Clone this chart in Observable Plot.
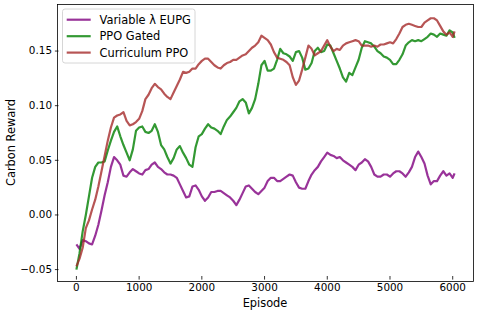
<!DOCTYPE html>
<html>
<head>
<meta charset="utf-8">
<script src="https://cdn.jsdelivr.net/npm/d3@7"></script>
<script src="https://cdn.jsdelivr.net/npm/@observablehq/plot@0.6"></script>
<style>
  html, body { margin: 0; padding: 0; background: #fff; }
  #chart { width: 479px; height: 314px; }
  svg { font-family: "DejaVu Sans", sans-serif; }
</style>
</head>
<body>
<div id="chart"></div>
<script>
const episodes = [
  0,50,100,150,200,250,300,350,400,450,
  500,550,600,650,700,750,800,850,900,950,
  1000,1050,1100,1150,1200,1250,1300,1350,1400,1450,
  1500,1550,1600,1650,1700,1750,1800,1850,1900,1950,
  2000,2050,2100,2150,2200,2250,2300,2350,2400,2450,
  2500,2550,2600,2650,2700,2750,2800,2850,2900,2950,
  3000,3050,3100,3150,3200,3250,3300,3350,3400,3450,
  3500,3550,3600,3650,3700,3750,3800,3850,3900,3950,
  4000,4050,4100,4150,4200,4250,4300,4350,4400,4450,
  4500,4550,4600,4650,4700,4750,4800,4850,4900,4950,
  5000,5050,5100,5150,5200,5250,5300,5350,5400,5450,
  5500,5550,5600,5650,5700,5750,5800,5850,5900,5950,
  6000,6030
];

const variableEUPG = [
  -0.027,-0.031,-0.023,-0.024,-0.026,-0.027,-0.019,-0.009,0.004,0.018,
  0.030,0.044,0.053,0.050,0.046,0.036,0.035,0.039,0.042,0.040,
  0.038,0.037,0.041,0.042,0.046,0.048,0.044,0.042,0.039,0.037,
  0.037,0.036,0.034,0.028,0.022,0.016,0.017,0.026,0.027,0.023,
  0.017,0.013,0.016,0.021,0.021,0.022,0.022,0.020,0.018,0.016,
  0.013,0.009,0.014,0.020,0.026,0.027,0.024,0.021,0.019,0.022,
  0.025,0.031,0.034,0.034,0.031,0.031,0.033,0.035,0.037,0.036,
  0.030,0.025,0.024,0.024,0.031,0.037,0.041,0.044,0.049,0.053,
  0.057,0.055,0.054,0.052,0.053,0.050,0.048,0.046,0.044,0.041,
  0.046,0.048,0.051,0.049,0.044,0.037,0.035,0.035,0.037,0.037,
  0.035,0.038,0.040,0.040,0.038,0.035,0.039,0.044,0.053,0.058,
  0.053,0.047,0.036,0.028,0.031,0.031,0.036,0.040,0.036,0.038,
  0.034,0.038
];

const ppoGated = [
  -0.050,-0.035,-0.015,0.000,0.017,0.034,0.044,0.048,0.048,0.049,
  0.059,0.068,0.076,0.081,0.072,0.064,0.057,0.050,0.060,0.077,
  0.080,0.081,0.076,0.075,0.077,0.083,0.076,0.064,0.060,0.053,
  0.047,0.052,0.060,0.063,0.057,0.052,0.046,0.044,0.062,0.072,
  0.074,0.079,0.083,0.080,0.079,0.077,0.074,0.081,0.087,0.090,
  0.094,0.098,0.104,0.106,0.103,0.093,0.098,0.106,0.120,0.137,
  0.141,0.132,0.132,0.134,0.142,0.152,0.148,0.147,0.145,0.141,
  0.149,0.150,0.144,0.133,0.134,0.139,0.150,0.153,0.149,0.150,
  0.156,0.155,0.148,0.141,0.134,0.126,0.122,0.130,0.128,0.135,
  0.142,0.153,0.159,0.158,0.157,0.154,0.150,0.148,0.145,0.144,
  0.142,0.138,0.138,0.142,0.147,0.155,0.158,0.160,0.159,0.160,
  0.159,0.161,0.163,0.166,0.165,0.163,0.166,0.165,0.164,0.169,
  0.167,0.162
];

const curriculumPPO = [
  -0.047,-0.040,-0.030,-0.012,-0.005,0.005,0.014,0.026,0.040,0.054,
  0.068,0.080,0.089,0.091,0.092,0.094,0.086,0.082,0.083,0.085,
  0.088,0.095,0.106,0.110,0.116,0.120,0.117,0.115,0.111,0.108,
  0.106,0.112,0.118,0.124,0.131,0.130,0.131,0.134,0.134,0.138,
  0.141,0.143,0.143,0.140,0.137,0.135,0.134,0.137,0.139,0.140,
  0.142,0.142,0.144,0.146,0.147,0.150,0.153,0.155,0.158,0.164,
  0.162,0.160,0.156,0.149,0.144,0.143,0.142,0.140,0.137,0.126,
  0.119,0.123,0.133,0.144,0.155,0.152,0.146,0.148,0.150,0.155,
  0.160,0.154,0.150,0.152,0.151,0.155,0.157,0.158,0.159,0.160,
  0.159,0.155,0.155,0.155,0.154,0.155,0.154,0.156,0.156,0.157,
  0.158,0.157,0.161,0.166,0.172,0.174,0.175,0.174,0.173,0.172,
  0.172,0.176,0.178,0.180,0.180,0.178,0.173,0.168,0.165,0.167,
  0.163,0.168
];

const seriesNames = ["Variable \u03bb EUPG", "PPO Gated", "Curriculum PPO"];
const seriesColors = ["purple", "green", "brown"];
const xTicks = [0, 1000, 2000, 3000, 4000, 5000, 6000];
const yTicks = [-0.05, 0.00, 0.05, 0.10, 0.15];

const allSeries = [variableEUPG, ppoGated, curriculumPPO];
const rows = (vals) => episodes.map((e, i) => ({episode: e, value: vals[i]}));

const W = 479, H = 314;
const mL = 57, mR = 6, mT = 4, mB = 33;

const plot = Plot.plot({
  width: W,
  height: H,
  marginLeft: mL,
  marginRight: mR,
  marginTop: mT,
  marginBottom: mB,
  style: {fontFamily: "DejaVu Sans, sans-serif", fontSize: "10.4px", color: "black", background: "white"},
  x: {domain: [-301.5, 6331.5]},
  y: {domain: [-0.0609, 0.1926]},
  marks: [
    ...allSeries.map((vals, k) => Plot.line(rows(vals), {
      x: "episode", y: "value",
      stroke: seriesColors[k], strokeOpacity: 0.8, strokeWidth: 2.2,
      strokeLinejoin: "round", strokeLinecap: "butt"
    })),
    Plot.frame({stroke: "black", strokeWidth: 0.8}),
    Plot.axisX({ticks: xTicks, tickSize: 3.6, tickPadding: 3.4, dy: -5, tickFormat: d => String(d), label: null, stroke: "black", strokeWidth: 0.8, fill: "black"}),
    Plot.axisY({ticks: yTicks, tickSize: 3.6, tickPadding: 3.4, dx: 1.5, tickFormat: d3.format(".2f"), label: null, stroke: "black", strokeWidth: 0.8, fill: "black"})
  ]
});

document.getElementById("chart").appendChild(plot);

const svg = d3.select(plot);

// axis titles
svg.append("text")
  .attr("x", (mL + (W - mR)) / 2).attr("y", 307)
  .attr("text-anchor", "middle")
  .attr("font-size", "11.4px").attr("fill", "black")
  .text("Episode");
svg.append("text")
  .attr("transform", `translate(15,${(mT + (H - mB)) / 2}) rotate(-90)`)
  .attr("text-anchor", "middle")
  .attr("font-size", "11.4px").attr("fill", "black")
  .text("Carbon Reward");

// legend
const lg = svg.append("g").attr("text-anchor", "start");
lg.append("rect")
  .attr("x", 62.5).attr("y", 9).attr("width", 132.5).attr("height", 54)
  .attr("rx", 2.5).attr("fill", "white").attr("fill-opacity", 0.8)
  .attr("stroke", "#cccccc").attr("stroke-width", 0.8);
const rowY = [19.7, 36.2, 52.6];
seriesNames.forEach((name, k) => {
  lg.append("line")
    .attr("x1", 66.7).attr("x2", 90.7).attr("y1", rowY[k]).attr("y2", rowY[k])
    .attr("stroke", seriesColors[k]).attr("stroke-opacity", 0.8).attr("stroke-width", 2.2);
  lg.append("text")
    .attr("x", 99.5).attr("y", rowY[k] + 4.2)
    .attr("text-anchor", "start")
    .attr("font-size", "11.4px").attr("fill", "black")
    .text(name);
});
</script>
</body>
</html>
